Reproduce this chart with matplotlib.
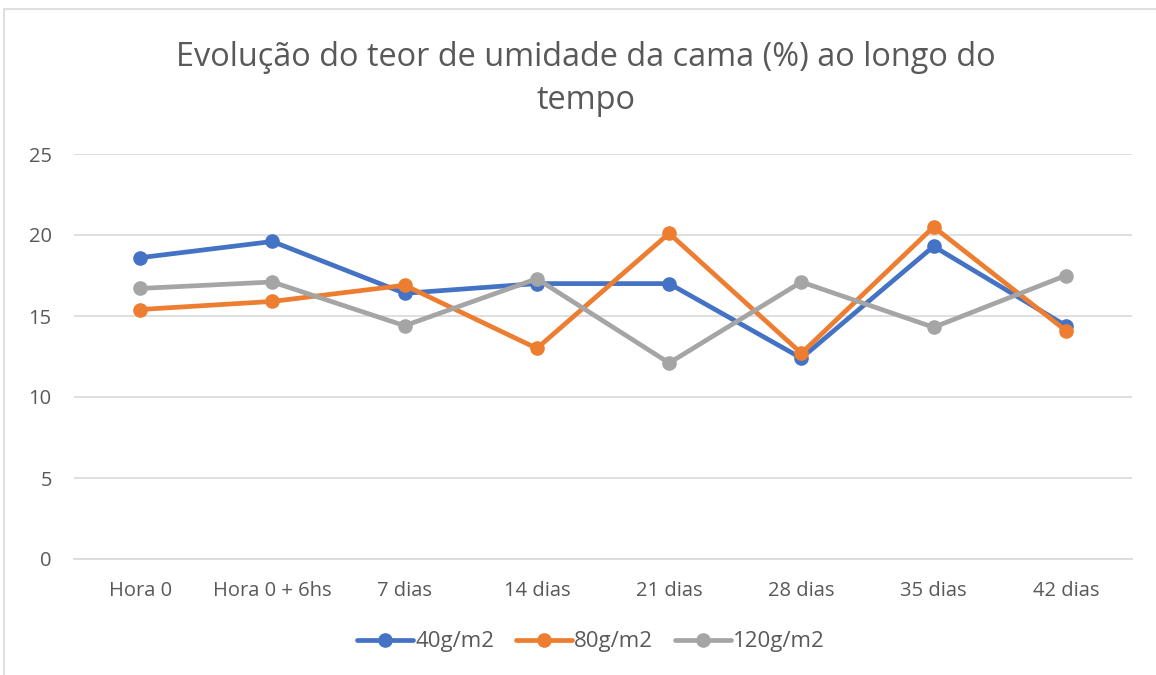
import matplotlib
matplotlib.use("Agg")
import matplotlib.pyplot as plt
from matplotlib.patches import Rectangle

# categorias e séries (teor de umidade %)
categorias = ['Hora 0', 'Hora 0 + 6hs', '7 dias', '14 dias', '21 dias', '28 dias', '35 dias', '42 dias']
s40 = [18.6, 19.6, 16.4, 17.0, 17.0, 12.4, 19.3, 14.4]
s80 = [15.4, 15.9, 16.9, 13.0, 20.1, 12.7, 20.5, 14.1]
s120 = [16.7, 17.1, 14.4, 17.3, 12.1, 17.1, 14.3, 17.5]
series = [('40g/m2', s40, '#4472C4'),
          ('80g/m2', s80, '#ED7D31'),
          ('120g/m2', s120, '#A5A5A5')]

plt.rcParams['font.family'] = ['Open Sans', 'DejaVu Sans']
txt = '#595959'

fig = plt.figure(figsize=(11.56, 6.75), dpi=100)
# moldura do gráfico
fig.patches.append(Rectangle((4 / 1156, -0.1), 1.2, 1.1 - 9 / 675, transform=fig.transFigure,
                             fill=False, edgecolor='#D9D9D9', linewidth=1.2))

ax = fig.add_axes([74 / 1156, 1 - 559 / 675, (1132 - 74) / 1156, (559 - 154) / 675])
x = range(len(categorias))
for nome, vals, cor in series:
    ax.plot(x, vals, color=cor, linewidth=3.4, marker='o', markersize=9.5,
            label=nome, solid_capstyle='round')

ax.set_xlim(-0.5, len(categorias) - 0.5)
ax.set_ylim(0, 25)
ax.set_yticks(range(0, 26, 5))
ax.set_xticks(list(x))
ax.set_xticklabels(categorias)
ax.grid(axis='y', color='#D9D9D9', linewidth=1.2)
ax.set_axisbelow(True)
for s in ax.spines.values():
    s.set_visible(False)
ax.spines['bottom'].set_visible(True)
ax.spines['bottom'].set_color('#D9D9D9')
ax.spines['bottom'].set_linewidth(1.2)
ax.tick_params(length=0, labelsize=14.5, colors=txt)
ax.tick_params(axis='x', pad=16)
ax.tick_params(axis='y', pad=16)

fig.text(586 / 1156, 1 - 79 / 675,
         'Evolução do teor de umidade da cama (%) ao longo do\ntempo',
         ha='center', va='center', fontsize=23.4, color=txt, linespacing=1.4)

leg = fig.legend(loc='center', bbox_to_anchor=(591 / 1156, 1 - 642 / 675), ncol=3,
                 frameon=False, fontsize=16, handlelength=2.5, columnspacing=1.0,
                 handletextpad=0.1, labelcolor=txt)

fig.savefig('out.png', dpi=100)
